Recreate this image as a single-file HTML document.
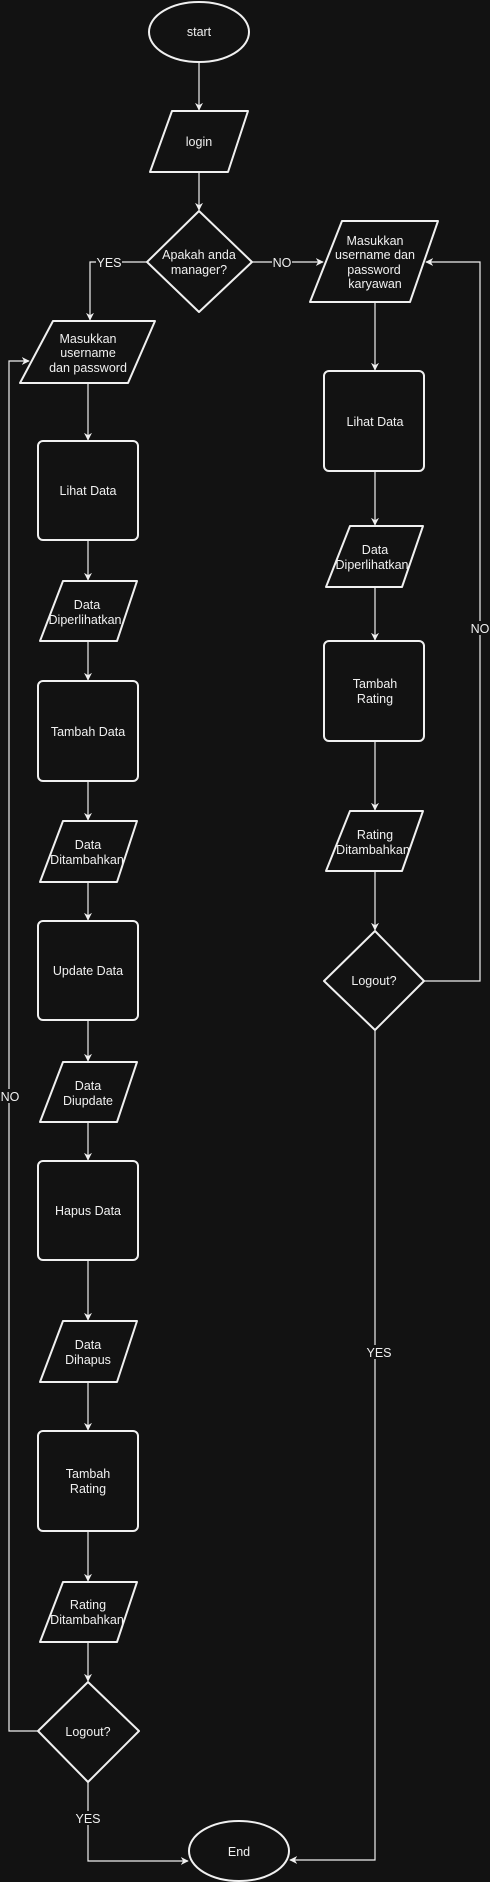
<!DOCTYPE html>
<html><head><meta charset="utf-8"><style>
html,body{margin:0;padding:0;background:#121212;}
svg{display:block;}
text{font-family:"Liberation Sans",Arial,sans-serif;font-size:12.5px;fill:#f0f0f0;text-anchor:middle;}
.s{fill:#121212;stroke:#f0f0f0;stroke-width:2;stroke-linejoin:round;}
.l{fill:none;stroke:#f0f0f0;stroke-width:1.2;}
.lbl{fill:#121212;}
</style></head><body>
<svg width="490" height="1882" viewBox="0 0 490 1882" xmlns="http://www.w3.org/2000/svg">
<defs><marker id="a" viewBox="0 0 10 10" refX="9" refY="5" markerWidth="8" markerHeight="8" orient="auto" markerUnits="userSpaceOnUse"><path d="M0,0 L10,5 L0,10 L3,5 z" fill="#f0f0f0"/></marker></defs>
<rect width="490" height="1882" fill="#121212"/>
<!-- connectors -->
<path class="l" d="M199,62 V110" marker-end="url(#a)"/>
<path class="l" d="M199,172 V210" marker-end="url(#a)"/>
<path class="l" d="M147,262 H90 V320" marker-end="url(#a)"/>
<path class="l" d="M252,262 H323" marker-end="url(#a)"/>
<path class="l" d="M375,302 V370" marker-end="url(#a)"/>
<path class="l" d="M88,383 V440" marker-end="url(#a)"/>
<path class="l" d="M88,540 V580" marker-end="url(#a)"/>
<path class="l" d="M88,641 V680" marker-end="url(#a)"/>
<path class="l" d="M88,781 V820" marker-end="url(#a)"/>
<path class="l" d="M88,882 V920" marker-end="url(#a)"/>
<path class="l" d="M88,1020 V1061" marker-end="url(#a)"/>
<path class="l" d="M88,1122 V1160" marker-end="url(#a)"/>
<path class="l" d="M88,1260 V1320" marker-end="url(#a)"/>
<path class="l" d="M88,1382 V1430" marker-end="url(#a)"/>
<path class="l" d="M88,1531 V1581" marker-end="url(#a)"/>
<path class="l" d="M88,1642 V1681" marker-end="url(#a)"/>
<path class="l" d="M38,1731 H9 V361 H29" marker-end="url(#a)"/>
<path class="l" d="M88,1782 V1861 H188" marker-end="url(#a)"/>
<path class="l" d="M375,471 V525" marker-end="url(#a)"/>
<path class="l" d="M375,587 V640" marker-end="url(#a)"/>
<path class="l" d="M375,741 V810" marker-end="url(#a)"/>
<path class="l" d="M375,871 V930" marker-end="url(#a)"/>
<path class="l" d="M424,981 H480 V262 H426" marker-end="url(#a)"/>
<path class="l" d="M375,1030 V1860 H290" marker-end="url(#a)"/>
<!-- labels on lines -->
<rect class="lbl" x="96" y="255" width="26" height="14"/><text x="109" y="267">YES</text>
<rect class="lbl" x="272" y="255" width="20" height="14"/><text x="282" y="267">NO</text>
<rect class="lbl" x="0" y="1089" width="20" height="14"/><text x="10" y="1101">NO</text>
<rect class="lbl" x="470" y="621" width="20" height="14"/><text x="480" y="633">NO</text>
<rect class="lbl" x="75" y="1811" width="26" height="14"/><text x="88" y="1823">YES</text>
<rect class="lbl" x="366" y="1345" width="26" height="14"/><text x="379" y="1357">YES</text>
<!-- shapes -->
<ellipse class="s" cx="199" cy="32" rx="50" ry="30"/><text x="199" y="36">start</text>
<polygon class="s" points="172,111 248,111 228,172 150,172"/><text x="199" y="146">login</text>
<polygon class="s" points="199,211 252,262 199,312 147,262"/><text x="199" y="259">Apakah anda</text><text x="199" y="274">manager?</text>
<polygon class="s" points="342,221 438,221 410,302 310,302"/><text x="375" y="245">Masukkan</text><text x="375" y="259">username dan</text><text x="374" y="274">password</text><text x="375" y="288">karyawan</text>
<polygon class="s" points="53,321 155,321 128,383 20,383"/><text x="88" y="343">Masukkan</text><text x="88" y="357">username</text><text x="88" y="372">dan password</text>
<rect class="s" x="38" y="441" width="100" height="99" rx="5"/><text x="88" y="495">Lihat Data</text>
<polygon class="s" points="63,581 137,581 117,641 40,641"/><text x="87" y="609">Data</text><text x="85" y="624">Diperlihatkan</text>
<rect class="s" x="38" y="681" width="100" height="100" rx="5"/><text x="88" y="736">Tambah Data</text>
<polygon class="s" points="63,821 137,821 117,882 40,882"/><text x="88" y="849">Data</text><text x="87" y="864">Ditambahkan</text>
<rect class="s" x="38" y="921" width="100" height="99" rx="5"/><text x="88" y="975">Update Data</text>
<polygon class="s" points="63,1062 137,1062 117,1122 40,1122"/><text x="88" y="1090">Data</text><text x="88" y="1105">Diupdate</text>
<rect class="s" x="38" y="1161" width="100" height="99" rx="5"/><text x="88" y="1215">Hapus Data</text>
<polygon class="s" points="63,1321 137,1321 117,1382 40,1382"/><text x="88" y="1349">Data</text><text x="88" y="1364">Dihapus</text>
<rect class="s" x="38" y="1431" width="100" height="100" rx="5"/><text x="88" y="1478">Tambah</text><text x="88" y="1493">Rating</text>
<polygon class="s" points="63,1582 137,1582 117,1642 40,1642"/><text x="88" y="1609">Rating</text><text x="87" y="1624">Ditambahkan</text>
<polygon class="s" points="88,1682 139,1731 88,1782 38,1731"/><text x="88" y="1736">Logout?</text>
<ellipse class="s" cx="239" cy="1851" rx="50" ry="30"/><text x="239" y="1856">End</text>
<rect class="s" x="324" y="371" width="100" height="100" rx="5"/><text x="375" y="426">Lihat Data</text>
<polygon class="s" points="350,526 423,526 402,587 326,587"/><text x="375" y="554">Data</text><text x="372" y="569">Diperlihatkan</text>
<rect class="s" x="324" y="641" width="100" height="100" rx="5"/><text x="375" y="688">Tambah</text><text x="375" y="703">Rating</text>
<polygon class="s" points="350,811 423,811 402,871 326,871"/><text x="375" y="839">Rating</text><text x="373" y="854">Ditambahkan</text>
<polygon class="s" points="375,931 424,981 375,1030 324,981"/><text x="374" y="985">Logout?</text>
</svg>
</body></html>
